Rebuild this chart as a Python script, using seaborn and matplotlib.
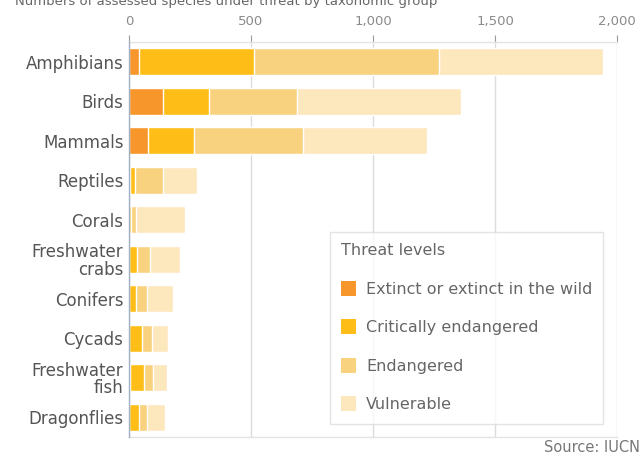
import numpy as np
import pandas as pd
import matplotlib
matplotlib.use("Agg")
import matplotlib.pyplot as plt
import matplotlib.patches as mpatches
import seaborn as sns

categories = ["Amphibians", "Birds", "Mammals", "Reptiles", "Corals",
              "Freshwater\ncrabs", "Conifers", "Cycads", "Freshwater\nfish", "Dragonflies"]
extinct = [39, 138, 78, 4, 0, 1, 0, 2, 3, 1]
critically = [475, 190, 188, 21, 8, 32, 28, 52, 58, 40]
endangered = [755, 361, 449, 114, 22, 53, 46, 40, 37, 33]
vulnerable = [675, 671, 505, 141, 200, 123, 106, 66, 57, 74]

level_names = ["Extinct or extinct in the wild", "Critically endangered", "Endangered", "Vulnerable"]
level_colors = ["#F7962B", "#FFBE17", "#F9D27F", "#FDE7BC"]
tick_values = [0, 500, 1000, 1500, 2000]
tick_labels = ["0", "500", "1,000", "1,500", "2,000"]

sns.set_style("white")
plt.rcParams["font.family"] = ["DejaVu Sans"]

fig = plt.figure(figsize=(6.43, 4.54), dpi=100)
ax = fig.add_axes([129 / 643, 1 - 437 / 454, (617 - 129) / 643, (437 - 42) / 454])

layers = [extinct, critically, endangered, vulnerable]
cum = np.cumsum(np.array(layers), axis=0)

# draw from the largest cumulative layer to the smallest so each overlays
for i in range(3, -1, -1):
    df = pd.DataFrame({"group": categories, "value": cum[i]})
    sns.barplot(data=df, x="value", y="group", orient="h", color=level_colors[i],
                width=0.68, saturation=1, ax=ax, zorder=3)

ax.set_xlim(0, 2000)
ax.set_ylim(9.5, -0.5)
ax.set_xlabel("")
ax.set_ylabel("")
ax.xaxis.tick_top()
ax.set_xticks(tick_values)
ax.set_xticklabels(tick_labels)
ax.tick_params(axis="x", colors="#9a9a9a", labelsize=9.5, length=5, width=0.8, pad=5,
               labelcolor="#8a8a8a", top=True, bottom=False)
ax.tick_params(axis="y", labelsize=12, labelcolor="#555555", length=0, pad=4)
for lab in ax.get_yticklabels():
    lab.set_horizontalalignment("right")
    lab.set_multialignment("right")
    lab.set_linespacing(0.95)

ax.grid(axis="x", color="#dcdcdc", linewidth=1, zorder=0)
ax.set_axisbelow(True)
for s in ["top", "bottom"]:
    ax.spines[s].set_color("#e4e4e4")
    ax.spines[s].set_linewidth(1)
ax.spines["right"].set_visible(False)
ax.spines["left"].set_color("#9fb0c4")
ax.spines["left"].set_linewidth(1)
ax.spines["left"].set_zorder(5)

handles = [mpatches.Patch(facecolor=c, edgecolor="none", label=n)
           for c, n in zip(level_colors, level_names)]
leg = ax.legend(handles=handles, title="Threat levels", loc="upper left",
                bbox_to_anchor=(330 / 643, 1 - 232 / 454), bbox_transform=fig.transFigure,
                frameon=True, fancybox=False, fontsize=11.5, title_fontsize=11.5,
                handlelength=0.95, handleheight=1.05, handletextpad=0.6,
                labelspacing=1.42, borderpad=0.7, borderaxespad=0)
leg._legend_box.align = "left"
leg.get_frame().set_edgecolor("#dddddd")
leg.get_frame().set_linewidth(1)
leg.get_title().set_color("#666666")
for t in leg.get_texts():
    t.set_color("#666666")
leg.set_zorder(10)

fig.text(15 / 643, 1 - 2 / 454, "Numbers of assessed species under threat by taxonomic group",
         ha="left", va="center", fontsize=9.5, color="#666666")
fig.text(640 / 643, 1 - 447 / 454, "Source: IUCN", ha="right", va="center",
         fontsize=10.5, color="#777777")

fig.savefig("out.png", dpi=100)
